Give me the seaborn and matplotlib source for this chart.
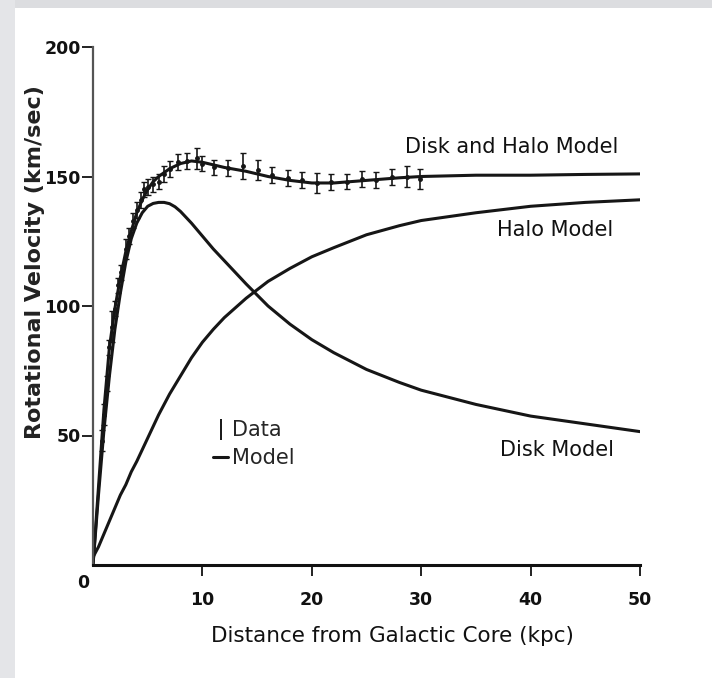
import numpy as np
import pandas as pd
import matplotlib
matplotlib.use("Agg")
import matplotlib.pyplot as plt
from matplotlib.lines import Line2D
from matplotlib.patches import Rectangle
import seaborn as sns

# ---- data ----
model_x = [0, 0.5, 1, 1.5, 2, 2.5, 3, 3.5, 4, 4.5, 5, 5.5, 6, 6.5, 7, 7.5, 8, 9, 10, 11, 12, 14, 16, 18, 20, 22, 25, 28, 30, 35, 40, 45, 50]
disk_halo = [0, 30, 60, 84, 99, 111, 121, 129, 136, 141, 145, 148, 150, 151.5, 153, 154, 155, 156, 155.5, 154.5, 153.5, 152, 150, 148.5, 147.5, 147.5, 148.5, 149.5, 150, 150.5, 150.5, 150.8, 151]
disk = [0, 27, 52, 73, 91, 105, 117, 126, 132, 136, 138.5, 139.6, 140, 140, 139.5, 138.3, 136.5, 132, 127, 122, 117.5, 108.5, 100, 93, 87, 82, 75.5, 70.5, 67.5, 62, 57.5, 54.5, 51.5]
halo = [3, 7, 12, 17, 22, 27, 31, 36, 40, 44.5, 49, 53.5, 58, 62, 66, 69.5, 73, 80, 86, 91, 95.5, 103, 109.5, 114.5, 119, 122.5, 127.5, 131, 133, 136, 138.5, 140, 141]

data_x = [0.8, 1.0, 1.3, 1.5, 1.7, 2.0, 2.3, 2.6, 3.0, 3.3, 3.7, 4.0, 4.4, 4.7, 5.0, 5.5, 6.0, 6.5, 7.0, 7.8, 8.6, 9.5,
          10.0, 11.1, 12.3, 13.7, 15.1, 16.4, 17.8, 19.1, 20.5, 21.8, 23.2, 24.6, 25.9, 27.3, 28.7, 29.9]
data_v = [48, 58, 70, 84, 92, 99, 108, 113, 122, 127, 133, 137, 141, 145, 146, 147, 148, 151, 153, 155.5, 156, 157,
          155, 153.5, 153.3, 154, 152.5, 150.5, 149.4, 148.6, 147.5, 147.9, 148, 149, 148.6, 149.8, 150, 149]
data_err = [4, 4, 3, 3, 6, 3, 3, 3, 4, 3, 3, 3, 3, 3, 3, 3, 3, 3, 3, 3, 3, 4,
            3, 3, 3, 5, 4, 3, 3, 3, 4, 3, 3, 3, 3, 3, 4, 4]

x_ticks = [10, 20, 30, 40, 50]
y_ticks = [50, 100, 150, 200]
curve_labels = ["Disk and Halo Model", "Halo Model", "Disk Model"]

sns.set_theme(style="ticks")
plt.rcParams["font.family"] = ["DejaVu Sans"]
ink = "#161616"

fig = plt.figure(figsize=(7.12, 6.78), dpi=100)
fig.patch.set_facecolor("white")
# scanned-page grey margins
fig.patches.append(Rectangle((0, 1 - 8 / 678), 1, 8 / 678, transform=fig.transFigure,
                             facecolor="#dcdde0", edgecolor="none", zorder=0))
fig.patches.append(Rectangle((0, 0), 15 / 712, 1, transform=fig.transFigure,
                             facecolor="#e4e5e8", edgecolor="none", zorder=0))

ax = fig.add_axes([93 / 712, (678 - 565) / 678, (640 - 93) / 712, (565 - 47) / 678])
ax.set_facecolor("white")

df = pd.DataFrame({"x": model_x * 3,
                   "v": disk_halo + disk + halo,
                   "model": ["dh"] * len(model_x) + ["d"] * len(model_x) + ["h"] * len(model_x)})
sns.lineplot(data=df, x="x", y="v", units="model", estimator=None, color=ink,
             linewidth=2.2, ax=ax, legend=False, sort=False)

ax.errorbar(data_x, data_v, yerr=data_err, fmt="o", ms=2.5, color=ink,
            ecolor=ink, elinewidth=1.2, capsize=2.2, capthick=1.0, zorder=3)

ax.set_xlim(0, 50)
ax.set_ylim(0, 200)
ax.set_xticks(x_ticks)
ax.set_yticks(y_ticks)
fs = 12.5
ax.set_xticklabels([str(t) for t in x_ticks], fontsize=fs, fontweight="bold")
ax.set_yticklabels([str(t) for t in y_ticks], fontsize=fs, fontweight="bold")
ax.tick_params(axis="both", direction="out", length=8, width=1.4, color="#222222", labelcolor="#111111")
ax.tick_params(axis="x", pad=11)
ax.tick_params(axis="y", pad=1)
for s in ["top", "right"]:
    ax.spines[s].set_visible(False)
ax.spines["left"].set_linewidth(1.6)
ax.spines["left"].set_color("#555555")
ax.spines["bottom"].set_linewidth(2.2)
ax.spines["bottom"].set_color("#111111")

ax.text(-0.006, (565 - 583) / 518, "0", transform=ax.transAxes, ha="right", va="center", fontsize=fs,
        fontweight="bold", color="#111111")

ax.set_xlabel("Distance from Galactic Core (kpc)", fontsize=15.5, color="#111111")
ax.xaxis.set_label_coords((392 - 93) / 547, (565 - 636) / 518, transform=ax.transAxes)
ax.xaxis.label.set_va("center")
ax.set_ylabel("Rotational Velocity (km/sec)", fontsize=16, fontweight="bold", color="#222222")
ax.yaxis.set_label_coords((35 - 93) / 547, (565 - 262) / 518, transform=ax.transAxes)
ax.yaxis.label.set_va("center")

tfs = 15
ax.text(28.5, 161.4, curve_labels[0], fontsize=tfs, ha="left", va="center", color="#111111")
ax.text(36.9, 129.3, curve_labels[1], fontsize=tfs, ha="left", va="center", color="#111111")
ax.text(37.2, 44.4, curve_labels[2], fontsize=tfs, ha="left", va="center", color="#111111")

h_data = ax.errorbar([], [], yerr=[], fmt="none", ecolor=ink, elinewidth=1.4, capsize=3)
h_model = Line2D([], [], color=ink, linewidth=2.2)
ax.legend([h_data, h_model], ["Data", "Model"], loc="upper left", bbox_to_anchor=(0.219, 0.279),
          frameon=False, fontsize=15, handlelength=0.75, handletextpad=0.15, labelspacing=0.38,
          borderaxespad=0, borderpad=0)

fig.savefig("out.png", dpi=100, facecolor="white")
